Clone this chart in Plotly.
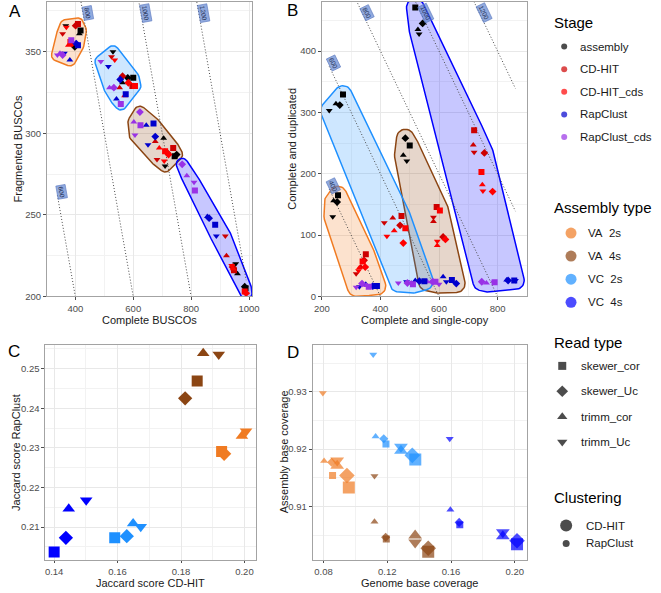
import math
import plotly.graph_objects as go

W, H = 661, 593
FONT = "Liberation Sans, Arial, sans-serif"

# ---------------- categories ----------------
stages = ["assembly", "CD-HIT", "CD-HIT_cds", "RapClust", "RapClust_cds"]
stage_colors = ["#000000", "#cd0000", "#ff0000", "#0000cd", "#9932e6"]
assembly_types = ["VA  2s", "VA  4s", "VC  2s", "VC  4s"]
assembly_colors = ["#f07b22", "#8b4513", "#1e90ff", "#0000ff"]
read_types = ["skewer_cor", "skewer_Uc", "trimm_cor", "trimm_Uc"]
read_symbols = ["square", "diamond", "triangle-up", "triangle-down"]
clusterings = ["CD-HIT", "RapClust"]

iso_totals_A = [600, 800, 1000, 1200]
iso_totals_B = [400, 600, 800, 1000, 1200]

# ---------------- panel A: Complete vs Fragmented BUSCOs ----------------
# order inside every list: stage-major (assembly, CD-HIT, CD-HIT_cds, RapClust, RapClust_cds),
# read type inner (skewer_cor, skewer_Uc, trimm_cor, trimm_Uc)
complete_VA2s = [418, 398, 414, 367, 409, 401, 383, 356, 383, 388, 376, 369, 409, 403, 381, 362, 386, 356, 347, 338]
fragmented_VA2s = [363, 353, 361, 366, 367, 366, 355, 361, 356, 355, 354, 365, 354, 355, 345, 349, 357, 348, 349, 348]
complete_VA4s = [743, 750, 705, 710, 738, 718, 676, 682, 710, 722, 690, 707, 670, 676, 645, 651, 625, 623, 602, 606]
fragmented_VA4s = [286, 287, 297, 280, 291, 288, 295, 284, 289, 287, 291, 283, 306, 298, 305, 293, 305, 313, 307, 299]
complete_VC2s = [600, 581, 563, 530, 597, 563, 553, 525, 606, 583, 570, 536, 574, 555, 542, 514, 557, 533, 518, 488]
fragmented_VC2s = [334, 334, 331, 350, 329, 335, 328, 347, 329, 331, 323, 345, 324, 333, 321, 341, 318, 328, 328, 344]
complete_VC4s = [988, 985, 960, 954, 948, 943, 922, 918, 985, 990, 945, 940, 883, 862, 856, 887, 813, 769, 785, 810]
fragmented_VC4s = [205, 206, 214, 220, 216, 218, 225, 237, 203, 202, 217, 219, 244, 248, 249, 237, 265, 281, 274, 270]

# ---------------- panel B: single-copy vs duplicated ----------------
single_VA2s = [255, 252, 240, 237, 350, 344, 333, 317, 339, 348, 328, 325, 388, 374, 350, 328, 360, 337, 352, 317]
duplicated_VA2s = [165, 154, 156, 130, 69, 59, 48, 37, 57, 48, 47, 42, 17, 17, 20, 16, 16, 21, 18, 15]
single_VA4s = [500, 485, 478, 490, 592, 614, 581, 581, 603, 622, 594, 594, 644, 659, 614, 625, 588, 578, 560, 600]
duplicated_VA4s = [246, 258, 230, 221, 146, 97, 122, 129, 140, 93, 83, 90, 27, 21, 32, 24, 24, 24, 24, 20]
single_VC2s = [272, 261, 248, 225, 472, 467, 442, 413, 485, 478, 447, 422, 550, 533, 519, 489, 511, 492, 505, 461]
duplicated_VC2s = [329, 312, 314, 303, 131, 116, 128, 120, 111, 87, 107, 98, 25, 25, 26, 24, 20, 22, 22, 22]
single_VC4s = [519, 544, 528, 532, 720, 755, 717, 720, 745, 783, 748, 750, 857, 836, 831, 861, 790, 746, 762, 787]
duplicated_VC4s = [471, 445, 435, 428, 271, 234, 247, 235, 203, 171, 182, 172, 26, 26, 27, 26, 23, 24, 22, 23]

# ---------------- panel C: Jaccard scores (assembly-major, read inner) ----------------
jaccard_cdhit = [0.1928, 0.1936, 0.1992, 0.2005, 0.1851, 0.1813, 0.1870, 0.1919,
                 0.1591, 0.1629, 0.1649, 0.1673, 0.1400, 0.1437, 0.1446, 0.1501]
jaccard_rapclust = [0.2291, 0.2285, 0.2330, 0.2342, 0.2469, 0.2425, 0.2539, 0.2536,
                    0.2073, 0.2077, 0.2109, 0.2101, 0.2037, 0.2073, 0.2146, 0.2168]

# ---------------- panel D: coverage (assembly-major, clustering, read inner) ----------------
genome_coverage = [0.0959, 0.0947, 0.0886, 0.0886, 0.0857, 0.0851, 0.0804, 0.0796,
                   0.1457, 0.1457, 0.1375, 0.1375, 0.1194, 0.1190, 0.1120, 0.1120,
                   0.1376, 0.1357, 0.1286, 0.1286, 0.1192, 0.1178, 0.1127, 0.1112,
                   0.2014, 0.2014, 0.1925, 0.1925, 0.1655, 0.1651, 0.1596, 0.1592]
assembly_coverage = [0.9133, 0.9154, 0.9171, 0.9180, 0.9154, 0.9177, 0.9179, 0.9298,
                     0.9021, 0.9027, 0.9049, 0.9037, 0.9043, 0.9046, 0.9073, 0.9153,
                     0.9182, 0.9189, 0.9197, 0.9204, 0.9209, 0.9218, 0.9222, 0.9365,
                     0.9034, 0.9040, 0.9048, 0.9055, 0.9068, 0.9072, 0.9094, 0.9218]

# ---------------- geometry ----------------
panels = {
    "A": dict(xa="x", ya="y", left=40, right=250, top=2, bottom=299,
              xr=[302.2, 1010], yr=[200, 380.5]),
    "B": dict(xa="x2", ya="y2", left=321.7, right=531.7, top=2, bottom=299,
              xr=[200, 900], yr=[0, 480]),
    "C": dict(xa="x3", ya="y3", left=38.3, right=254, top=347.7, bottom=565,
              xr=[0.13723, 0.2036], yr=[0.20163, 0.25603]),
    "D": dict(xa="x4", ya="y4", left=312.3, right=531.7, top=347.7, bottom=565,
              xr=[0.07327, 0.20755], yr=[0.9006, 0.9382]),
}


def scales(P):
    sx = (P["right"] - P["left"]) / (P["xr"][1] - P["xr"][0])
    sy = (P["bottom"] - P["top"]) / (P["yr"][1] - P["yr"][0])
    return sx, sy


def rgba(hexc, a):
    h = hexc.lstrip("#")
    return "rgba(%d,%d,%d,%.2f)" % (int(h[0:2], 16), int(h[2:4], 16), int(h[4:6], 16), a)


def rounded_hull(xs, ys, P, r, n_arc=12):
    sx, sy = scales(P)
    pts = sorted(set((x * sx, y * sy) for x, y in zip(xs, ys)))

    def cross(o, a, b):
        return (a[0] - o[0]) * (b[1] - o[1]) - (a[1] - o[1]) * (b[0] - o[0])

    lower = []
    for p in pts:
        while len(lower) >= 2 and cross(lower[-2], lower[-1], p) <= 0:
            lower.pop()
        lower.append(p)
    upper = []
    for p in reversed(pts):
        while len(upper) >= 2 and cross(upper[-2], upper[-1], p) <= 0:
            upper.pop()
        upper.append(p)
    hull = lower[:-1] + upper[:-1]
    n = len(hull)
    out = []
    for i in range(n):
        p = hull[i]
        pv = hull[i - 1]
        nx = hull[(i + 1) % n]
        e1 = (p[0] - pv[0], p[1] - pv[1])
        e2 = (nx[0] - p[0], nx[1] - p[1])
        a1 = math.atan2(-e1[0], e1[1])
        a2 = math.atan2(-e2[0], e2[1])
        while a2 < a1:
            a2 += 2 * math.pi
        for k in range(n_arc + 1):
            t = a1 + (a2 - a1) * k / n_arc
            out.append((p[0] + r * math.cos(t), p[1] + r * math.sin(t)))
    out.append(out[0])
    return [q[0] / sx for q in out], [q[1] / sy for q in out]


fig = go.Figure()

stage_idx = [s for s in range(len(stages)) for r in range(len(read_types))]
read_idx = [r for s in range(len(stages)) for r in range(len(read_types))]

panelA_x = [complete_VA2s, complete_VA4s, complete_VC2s, complete_VC4s]
panelA_y = [fragmented_VA2s, fragmented_VA4s, fragmented_VC2s, fragmented_VC4s]
panelB_x = [single_VA2s, single_VA4s, single_VC2s, single_VC4s]
panelB_y = [duplicated_VA2s, duplicated_VA4s, duplicated_VC2s, duplicated_VC4s]


def busco_panel(P, xs_all, ys_all, totals, hull_r):
    # hulls
    for k in range(len(assembly_types)):
        hx, hy = rounded_hull(xs_all[k], ys_all[k], P, hull_r)
        fig.add_trace(go.Scatter(x=hx, y=hy, mode="lines", fill="toself",
                                 fillcolor=rgba(assembly_colors[k], 0.22),
                                 line=dict(color=assembly_colors[k], width=1.5),
                                 xaxis=P["xa"], yaxis=P["ya"], hoverinfo="skip"))
    # iso lines (x + y = total) over the data x-range
    flat_x = [v for lst in xs_all for v in lst]
    xmin, xmax = min(flat_x), max(flat_x)
    sx, sy = scales(P)
    angle = math.degrees(math.atan2(sy, sx))
    for T in totals:
        fig.add_trace(go.Scatter(x=[xmin, xmax], y=[T - xmin, T - xmax], mode="lines",
                                 line=dict(color="#4a4a4a", width=1, dash="1px,2px"),
                                 xaxis=P["xa"], yaxis=P["ya"], hoverinfo="skip"))
        ytop = P["yr"][1]
        if T - xmin <= ytop:
            lx, ly, xs_, ys_ = xmin, T - xmin, 4, 3
        else:
            ly = ytop - 11 / sy
            lx, xs_, ys_ = T - ly, 5, 0
        fig.add_annotation(x=lx, y=ly, xref=P["xa"], yref=P["ya"], text=str(T),
                           showarrow=False, textangle=angle, xshift=xs_, yshift=ys_,
                           font=dict(size=6.5, color="#1f2f55", family=FONT),
                           bgcolor="rgba(86,124,204,0.65)", bordercolor="#5b79c0",
                           borderwidth=0.6, borderpad=1)
    # points
    for k in range(len(assembly_types)):
        fig.add_trace(go.Scatter(
            x=xs_all[k], y=ys_all[k], mode="markers",
            marker=dict(color=[stage_colors[s] for s in stage_idx],
                        symbol=[read_symbols[r] for r in read_idx],
                        size=6, line=dict(width=0)),
            xaxis=P["xa"], yaxis=P["ya"], hoverinfo="skip"))


busco_panel(panels["A"], panelA_x, panelA_y, iso_totals_A, 6)
busco_panel(panels["B"], panelB_x, panelB_y, iso_totals_B, 9)

# panel C
c_asm = [a for a in range(len(assembly_types)) for r in range(len(read_types))]
c_read = [r for a in range(len(assembly_types)) for r in range(len(read_types))]
fig.add_trace(go.Scatter(
    x=jaccard_cdhit, y=jaccard_rapclust, mode="markers",
    marker=dict(color=[assembly_colors[a] for a in c_asm],
                symbol=[read_symbols[r] for r in c_read], size=11, line=dict(width=0)),
    xaxis="x3", yaxis="y3", hoverinfo="skip"))

# panel D
cluster_sizes = [12, 7]
d_asm = [a for a in range(4) for c in range(2) for r in range(4)]
d_clu = [c for a in range(4) for c in range(2) for r in range(4)]
d_read = [r for a in range(4) for c in range(2) for r in range(4)]
fig.add_trace(go.Scatter(
    x=genome_coverage, y=assembly_coverage, mode="markers",
    marker=dict(color=[assembly_colors[a] for a in d_asm],
                symbol=[read_symbols[r] for r in d_read],
                size=[cluster_sizes[c] for c in d_clu], line=dict(width=0)),
    xaxis="x4", yaxis="y4", hoverinfo="skip"))

# ---------------- legend (drawn on a pixel-space overlay axis) ----------------
legend_title_x = 557
legend_blocks = [
    dict(title="Stage", title_y=23, y0=47, dy=22.8, mx=570, tx=584,
         labels=stages, colors=stage_colors, symbols=["circle"] * 5, sizes=[6] * 5),
    dict(title="Assembly type", title_y=209, y0=235, dy=23.3, mx=577, tx=592,
         labels=assembly_types, colors=assembly_colors, symbols=["circle"] * 4, sizes=[11] * 4),
    dict(title="Read type", title_y=345, y0=369, dy=25.6, mx=568, tx=585,
         labels=read_types, colors=["#000000"] * 4, symbols=read_symbols, sizes=[8, 9, 9, 9]),
    dict(title="Clustering", title_y=502, y0=530, dy=18, mx=572, tx=590,
         labels=clusterings, colors=["#000000"] * 2, symbols=["circle"] * 2, sizes=cluster_sizes),
]
for blk in legend_blocks:
    n = len(blk["labels"])
    ys = [blk["y0"] + i * blk["dy"] for i in range(n)]
    fig.add_trace(go.Scatter(x=[blk["mx"]] * n, y=ys, mode="markers",
                             marker=dict(color=blk["colors"], symbol=blk["symbols"],
                                         size=blk["sizes"], line=dict(width=0)),
                             xaxis="x5", yaxis="y5", hoverinfo="skip", cliponaxis=False))
    fig.add_annotation(x=legend_title_x, y=blk["title_y"], xref="x5", yref="y5",
                       text=blk["title"], showarrow=False, xanchor="left", yanchor="middle",
                       font=dict(size=15, color="#000000", family=FONT))
    for lab, yy in zip(blk["labels"], ys):
        fig.add_annotation(x=blk["tx"], y=yy, xref="x5", yref="y5",
                           text=lab.replace(" ", "\u00a0"), showarrow=False,
                           xanchor="left", yanchor="middle",
                           font=dict(size=11.5, color="#1a1a1a", family=FONT))

# panel letters and axis titles
texts = [
    ("A", 7, 12, 0, 17, "#000"), ("B", 292, 11, 0, 17, "#000"),
    ("C", 6, 354, 0, 17, "#000"), ("D", 292, 355, 0, 17, "#000"),
    ("Complete BUSCOs", 145, 323, 0, 11, "#1a1a1a"),
    ("Fragmented BUSCOs", 10, 150, -90, 11, "#1a1a1a"),
    ("Complete and single-copy", 427, 323, 0, 11, "#1a1a1a"),
    ("Complete and duplicated", 291, 150, -90, 11, "#1a1a1a"),
    ("Jaccard score CD-HIT", 146, 587.5, 0, 11, "#1a1a1a"),
    ("Jaccard score RapClust", 8, 456, -90, 11, "#1a1a1a"),
    ("Genome base coverage", 422, 587.5, 0, 11, "#1a1a1a"),
    ("Assembly base coverage", 283, 456, -90, 11, "#1a1a1a"),
]
for t, x, y, ang, sz, col in texts:
    fig.add_annotation(x=x, y=y, xref="x5", yref="y5", text=t, showarrow=False,
                       textangle=ang, borderpad=0,
                       font=dict(size=sz, color=col, family=FONT))

# ---------------- axes ----------------
tick_sets = {
    "A": dict(x=[400, 600, 800, 1000], xm=[500, 700, 900], y=[200, 250, 300, 350],
              ym=[225, 275, 325, 375], fmt=None),
    "B": dict(x=[200, 400, 600, 800], xm=[300, 500, 700, 900], y=[0, 100, 200, 300, 400],
              ym=[50, 150, 250, 350, 450], fmt=None),
    "C": dict(x=[0.14, 0.16, 0.18, 0.20], xm=[0.15, 0.17, 0.19],
              y=[0.21, 0.22, 0.23, 0.24, 0.25], ym=[0.205, 0.215, 0.225, 0.235, 0.245, 0.255], fmt=".2f"),
    "D": dict(x=[0.08, 0.12, 0.16, 0.20], xm=[0.10, 0.14, 0.18],
              y=[0.91, 0.92, 0.93], ym=[0.905, 0.915, 0.925, 0.935], fmt=".2f"),
}


def axis(dom, rng, tv, mv, fmt, anchor, tlen=3):
    d = dict(domain=dom, range=rng, tickvals=tv, anchor=anchor,
             showline=True, mirror=True, linecolor="#a3a3a3", linewidth=1,
             ticks="outside", ticklen=tlen, tickwidth=1, tickcolor="#4d4d4d",
             tickfont=dict(size=9.5, color="#4d4d4d", family=FONT),
             showgrid=True, gridcolor="#e8e8e8", gridwidth=1, zeroline=False,
             minor=dict(tickvals=mv, showgrid=True, gridcolor="#f2f2f2", gridwidth=0.7, ticks=""),
             fixedrange=True)
    if fmt:
        d["tickformat"] = fmt
    return d


layout_axes = {}
for i, key in enumerate(["A", "B", "C", "D"]):
    P = panels[key]
    T = tick_sets[key]
    sfx = "" if i == 0 else str(i + 1)
    xdom = [P["left"] / W, P["right"] / W]
    ydom = [1 - P["bottom"] / H, 1 - P["top"] / H]
    layout_axes["xaxis" + sfx] = axis(xdom, P["xr"], T["x"], T["xm"], T["fmt"], "y" + sfx,
                                      tlen=2 if key in ("C", "D") else 3)
    layout_axes["yaxis" + sfx] = axis(ydom, P["yr"], T["y"], T["ym"], T["fmt"], "x" + sfx)

layout_axes["xaxis5"] = dict(domain=[0, 1], range=[0, W], visible=False, anchor="y5", fixedrange=True)
layout_axes["yaxis5"] = dict(domain=[0, 1], range=[H, 0], visible=False, anchor="x5", fixedrange=True)

fig.update_layout(
    width=W, height=H, autosize=False,
    margin=dict(l=0, r=0, t=0, b=0),
    paper_bgcolor="white", plot_bgcolor="rgba(0,0,0,0)",
    showlegend=False, font=dict(family=FONT),
    **layout_axes,
)

fig.write_html("out.html", config={"displayModeBar": False},
               post_script="document.body.style.margin='0';document.body.style.overflow='hidden';")
